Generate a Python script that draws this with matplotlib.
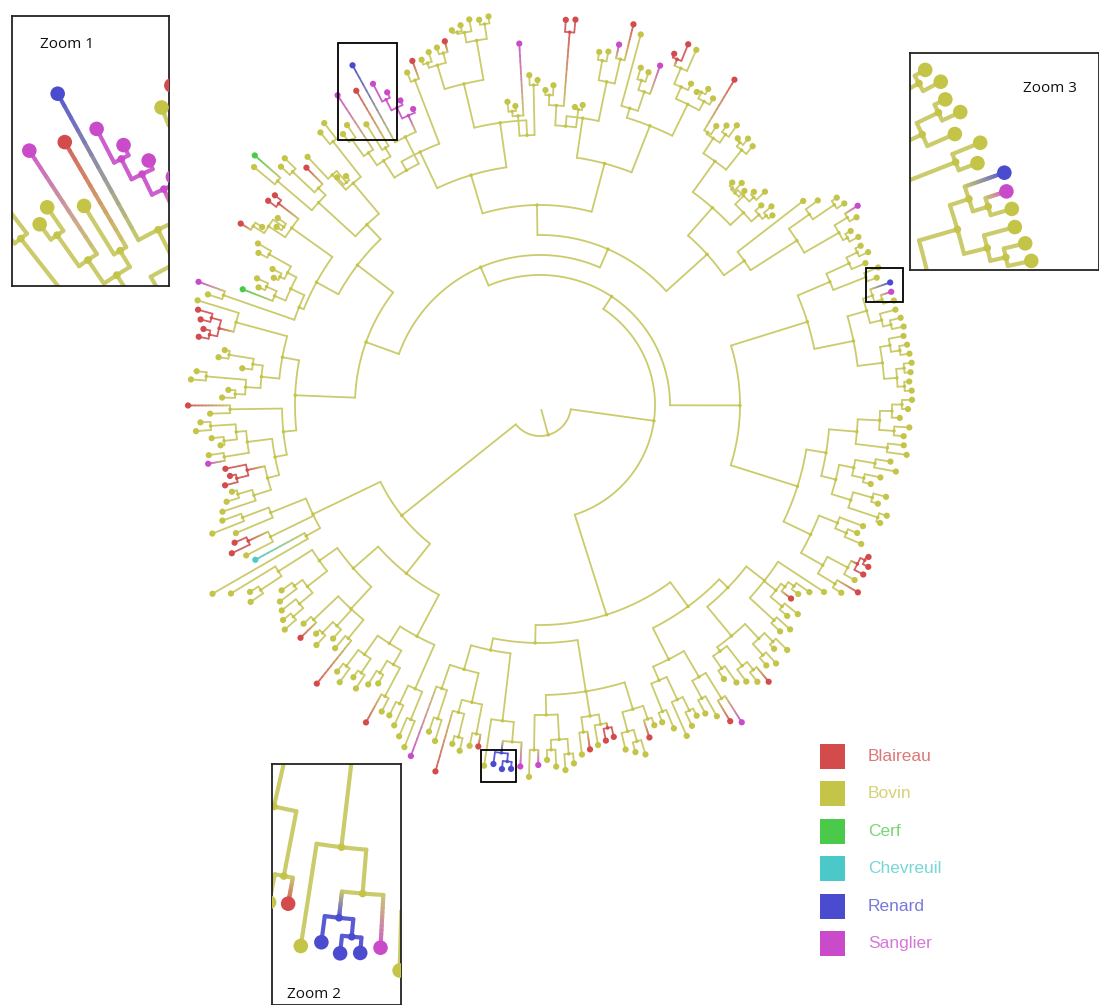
import numpy as np
import matplotlib.pyplot as plt
from matplotlib.collections import LineCollection
from matplotlib.colors import to_rgb
from matplotlib.patches import Rectangle

# hosts and colours
hosts = ['Blaireau', 'Bovin', 'Cerf', 'Chevreuil', 'Renard', 'Sanglier']
host_codes = ['b', 'v', 'c', 'h', 'r', 's']
host_colors = ['#d34b4b', '#c4c448', '#4bc94b', '#4bc9c9', '#4b4bd0', '#c94bc9']
line_colors = ['#d56262', '#cbcb6c', '#5ccf5c', '#5ccccc', '#5a5ad4', '#cd5ecd']

# tree, written as nested clades: host code of each tip, ':' radius of the node (px)
L_a = "(((v:338,v:352):318,v:330):290,((b:335,b:342):322,v:330):300,(h:324,v:378):268):252"
L_b1 = "((v:362,(v:345,v:350):335):310,((v:318,v:326):305,(v:330,(v:335,v:340):325):312):295):270"
L_b2 = "((v:322,b:334):312,((v:320,v:328):315,v:312):300,(v:318,b:357):302):278"
L_b3 = "(((v:335,v:342):325,(v:330,v:338):322):305,((v:328,v:322):312,(b:362,v:345):330):298):282"
L_b4 = "((v:345,v:352):330,(v:360,v:368):340):310"

R1a1 = "((s:374,(v:345,v:352):330):300,((b:381,(v:350,v:355):342):318,(v:348,b:347):335):305):275"
R1a2 = "(v:365,((r:362,(r:366,r:365):358):350,s:362):338):318"
R1a3 = ("(((v:372,s:360):345,((v:355,v:362):345,(v:366,v:360):350):335):310,"
        "((v:352,b:348):330,(v:345,(b:342,b:340):330):325):315,"
        "((v:355,(v:360,v:365):350):338,(b:350,v:340):332):318):290")
R1b1 = "(((v:340,v:350):330,(v:362,(v:355,v:348):340):325):300,((v:350,v:358):335,(b:369,s:376):345):315):285"
R1b2 = "(((v:330,v:340):320,(v:345,(v:352,b:359):340):330):305,((v:345,v:350):335,(v:338,v:348):332):320):300"
R1b3 = "((v:330,v:336):318,((v:325,v:332):315,(b:317,(v:320,v:328):312):305):300,v:340):285"

R2a1 = "(((v:355,b:369):345,(v:360,(b:365,(b:366,b:362):360):355):348):325,((v:350,v:342):332,v:345):320):300"
R2a2 = ("((((v:360,v:364):356,(v:352,v:358):345):325,((v:340,v:348):332,(v:362,v:355):340):320):305,"
        "((v:370,v:366):350,((v:365,v:370):355,(v:360,(v:368,v:372):362):352):340):318):290")
R2a3 = ("((((v:372,v:370):365,(v:372,v:374):366):358,((v:373,v:372):364,v:370):355):345,"
        "(((v:372,v:371):360,v:368):352,((v:369,s:369):358,r:371):350):340):320")
R2a4 = "((v:360,v:365):350,(v:355,(v:362,v:358):352):340):315"

T1 = "(((v:360,v:356):350,(v:368,s:375):360):345,((v:365,v:362):356,v:345):330):305"
T2 = "v:333"
T3 = "(((v:300,v:305):295,v:298):290,((v:310,v:302):298,(v:296,(v:300,v:294):290):288):292):280"
T4 = "((v:335,(v:338,v:332):330):325,((v:342,v:336):328,(v:330,b:379):320):318):300"
T5 = "((v:352,(v:358,v:350):352):345,(v:355,(v:388,(b:390,b:376):372):365):348):335"
T6 = "((s:360,(v:350,v:352):340):330,v:384):310"
T7 = "((b:392,s:369):355,(v:360,v:358):350):330"
T8 = "((v:303,v:300):298,((b:387,b:386):374,(v:320,v:315):310):300):280"
T9 = "((v:325,v:330):320,(s:362,(v:300,v:305):295):290):270"
T10 = "(((v:392,v:390):385,(v:392,(v:388,v:385):382):380):370,((b:376,v:372):365,(v:370,v:365):360):355):330"
T11 = "(b:367,v:358):348"
T12 = "((s:322,(s:335,(s:348,s:362):342):330):318,r:388):300"
T13 = "((b:364,v:330):300,(s:370,(v:340,v:335):325):305):290"

U1 = "((v:355,v:350):335,((v:300,v:305):295,v:340):310):290"
U2 = "((b:333,(v:355,v:352):340):310,(c:379,v:372):345):300"
U3 = "((b:338,b:340):330,((v:322,v:318):312,(v:330,b:350):338):325):305"
U4 = "(((v:325,v:320):310,(v:300,v:295):290):285,((v:310,v:305):298,c:319):287):275"
U5 = "(s:363,v:350):335"
U6 = "(v:358,((b:355,b:350):340,(b:345,b:348):338):330):315"
U7 = "(((v:320,v:325):315,v:300):290,((v:345,v:350):335,(v:312,v:318):305):295):280"
U8 = "(b:352,v:330):310"
U9 = "(((v:340,v:345):330,(v:330,v:322):318):305,(v:335,s:337):320):295"
U10 = "(b:321,(b:318,b:325):312):300"
U11 = "((v:320,v:328):315,v:335):300"

L = f"({L_a},(({L_b1},{L_b2}):248,({L_b3},{L_b4}):262):215):177"
R1 = f"((({R1a1},{R1a2}):250,{R1a3}):238,({R1b1},({R1b2},{R1b3}):262):250):220"
R2a = f"(({R2a1},{R2a2}):270,({R2a3},{R2a4}):280):200"
A1 = f"(({T1},{T2}):250,({T3},{T4}):262):225"
A2 = f"(({T5},{T6}):300,({T7},{T8}):290):250"
A3 = f"(({T9},{T10}):285,({T11},({T12},{T13}):270):280):240"
R2b1 = f"({A1},({A2},{A3}):200):170"
B1 = f"(({U1},{U2}):250,({U3},({U4},{U5}):260):255):230"
B2 = f"(({U6},{U7}):262,({U8},({U9},({U10},{U11}):282):270):258):245"
R2b2 = f"({B1},{B2}):185"
R2 = f"({R2a},({R2b1},{R2b2}):150):130"
tree_str = f"({L},({R1},{R2}):115):31"

CX, CY = 540, 405
START = 200.0


def parse(s):
    s = s.replace(" ", "")
    pos = 0

    def node():
        nonlocal pos
        kids = []
        host = None
        if s[pos] == '(':
            pos += 1
            kids.append(node())
            while s[pos] == ',':
                pos += 1
                kids.append(node())
            pos += 1
        else:
            host = s[pos]
            pos += 1
        pos += 1  # ':'
        j = pos
        while pos < len(s) and (s[pos].isdigit() or s[pos] == '.'):
            pos += 1
        return {'kids': kids, 'host': host, 'r': float(s[j:pos])}
    return node()


def collect(n, tips):
    if not n['kids']:
        tips.append(n)
    for k in n['kids']:
        collect(k, tips)


def finish(n):
    if n['kids']:
        for k in n['kids']:
            finish(k)
        n['a'] = np.mean([k['a'] for k in n['kids']])
        n['hs'] = set().union(*[k['hs'] for k in n['kids']])
    else:
        n['hs'] = {n['host']}
    n['ci'] = host_codes.index(list(n['hs'])[0]) if len(n['hs']) == 1 else 1


root = parse(tree_str)
tips = []
collect(root, tips)
N = len(tips)
for i, t in enumerate(tips):
    t['a'] = np.deg2rad(START + i * 360.0 / N)
finish(root)


def xy(r, a):
    return CX + r * np.cos(a), CY - r * np.sin(a)


def draw_tree(ax, lw, tip_s, node_s):
    segs, cols = [], []
    nodes_x, nodes_y, nodes_c = [], [], []
    tips_x, tips_y, tips_c = [], [], []

    def walk(n):
        if n['kids']:
            angs = [k['a'] for k in n['kids']]
            th = np.linspace(min(angs), max(angs), max(2, int(np.rad2deg(max(angs) - min(angs)) * 2)))
            px, py = xy(n['r'], th)
            segs.append(np.column_stack([px, py]))
            cols.append(line_colors[n['ci']])
            x, y = xy(n['r'], n['a'])
            nodes_x.append(x); nodes_y.append(y); nodes_c.append(host_colors[n['ci']])
            for k in n['kids']:
                if k['ci'] == n['ci']:
                    p0 = xy(n['r'], k['a']); p1 = xy(k['r'], k['a'])
                    segs.append(np.array([p0, p1])); cols.append(line_colors[k['ci']])
                else:
                    c0 = np.array(to_rgb(line_colors[n['ci']])); c1 = np.array(to_rgb(line_colors[k['ci']]))
                    rr = np.linspace(n['r'], k['r'], 13)
                    for j in range(12):
                        f = (j + 0.5) / 12
                        segs.append(np.array([xy(rr[j], k['a']), xy(rr[j + 1], k['a'])]))
                        cols.append(tuple(c0 * (1 - f) + c1 * f))
                walk(k)
        else:
            x, y = xy(n['r'], n['a'])
            tips_x.append(x); tips_y.append(y); tips_c.append(host_colors[n['ci']])

    walk(root)
    # root edge
    segs.append(np.array([xy(5, root['a']), xy(root['r'], root['a'])]))
    cols.append(line_colors[1])
    ax.add_collection(LineCollection(segs, colors=cols, linewidths=lw, capstyle='round', zorder=1))
    ax.scatter(nodes_x, nodes_y, s=node_s, c=nodes_c, linewidths=0, zorder=2)
    ax.scatter(tips_x, tips_y, s=tip_s, c=tips_c, linewidths=0, zorder=3)


W, H = 1099, 1005
fig = plt.figure(figsize=(W / 100, H / 100), dpi=100)
ax = fig.add_axes([0, 0, 1, 1])
ax.set_xlim(0, W)
ax.set_ylim(H, 0)
ax.axis('off')
draw_tree(ax, 1.3, 20, 6)

# boxes on the tree
for (bx, by, bw, bh) in [(338, 43, 59, 97), (866, 268, 37, 34), (481, 750, 35, 32)]:
    ax.add_patch(Rectangle((bx, by), bw, bh, fill=False, ec='black', lw=1.3, zorder=5))

# legend
for i, name in enumerate(hosts):
    yc = 756 + i * 37.5
    ax.add_patch(Rectangle((820, yc - 12.5), 25, 25, fc=host_colors[i], ec='none'))
    ax.text(868, yc, name, color=host_colors[i], alpha=0.75, fontsize=12.5,
            family='Liberation Sans', va='center', ha='left')

# zoom insets: (inset rect px), (region x0, y0, w, h), label, label position
insets = [
    ((12, 16, 157, 270), (328.5, 24.4, 82.6, 142.1), 'Zoom 1', (0.18, 0.88)),
    ((910, 53, 189, 217), (843, 222.6, 94.5, 108.5), 'Zoom 3', (0.6, 0.82)),
    ((272, 764, 129, 241), (471, 683, 58.6, 109.5), 'Zoom 2', (0.12, 0.03)),
]
for (x, y, w, h), (rx, ry, rw, rh), lab, (tx, ty) in insets:
    iax = fig.add_axes([x / W, 1 - (y + h) / H, w / W, h / H])
    draw_tree(iax, 3.0, 110, 30)
    iax.set_xlim(rx, rx + rw)
    iax.set_ylim(ry + rh, ry)
    iax.set_xticks([]); iax.set_yticks([])
    for sp in iax.spines.values():
        sp.set_color('#222222'); sp.set_linewidth(1.3)
    iax.text(tx, ty, lab, transform=iax.transAxes, fontsize=11, family='Open Sans',
             color='#111111', zorder=10)

fig.savefig('out.png', dpi=100)
